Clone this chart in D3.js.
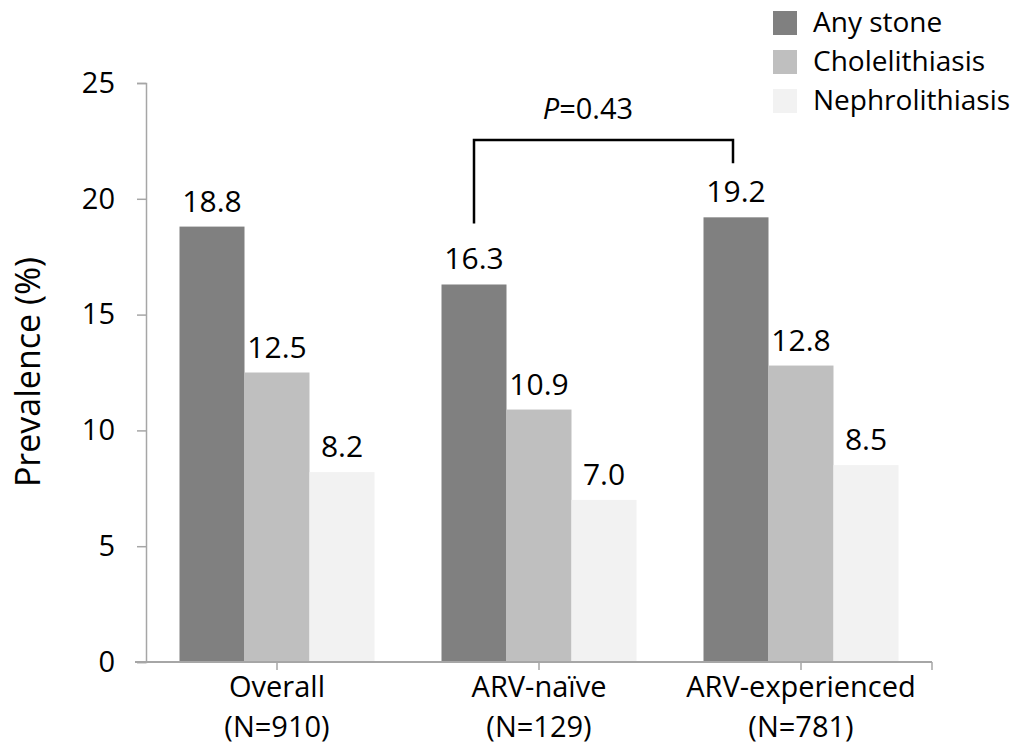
<!DOCTYPE html>
<html><head><meta charset="utf-8">
<script src="https://cdn.jsdelivr.net/npm/d3@7"></script>
<style>body{margin:0;background:#fff}svg{display:block}text{font-family:"Open Sans",sans-serif;fill:#000}</style>
</head><body><svg id="c" width="1021" height="744"></svg>
<script>
const categories = ["Overall", "ARV-naïve", "ARV-experienced"];
const categoryN = ["(N=910)", "(N=129)", "(N=781)"];
const seriesNames = ["Any stone", "Cholelithiasis", "Nephrolithiasis"];
const anyStone = [18.8, 16.3, 19.2];
const cholelithiasis = [12.5, 10.9, 12.8];
const nephrolithiasis = [8.2, 7.0, 8.5];
const yTicks = [0, 5, 10, 15, 20, 25];
const pLabel = "0.43";

const colors = ["#808080", "#BFBFBF", "#F2F2F2"];
const series = [anyStone, cholelithiasis, nephrolithiasis];

const svg = d3.select("#c");
const x0 = d3.scaleBand().domain(categories).range([146, 932]).padding(0);
const x1 = d3.scaleBand().domain(seriesNames).range([33.5, 228.5]).padding(0);
const y = d3.scaleLinear().domain([0, 25]).range([662, 83]);
const axisColor = "#A6A6A6";

// Y axis
const yAxis = svg.append("g").attr("transform", "translate(146,0)")
  .call(d3.axisLeft(y).tickValues(yTicks).tickSize(9).tickPadding(22).tickFormat(d3.format("d")));
yAxis.select(".domain").attr("stroke", axisColor).attr("stroke-width", 1.5);
yAxis.selectAll(".tick line").attr("stroke", axisColor).attr("stroke-width", 1.5);
yAxis.selectAll(".tick text").attr("font-size", 29).attr("font-family", "Open Sans").attr("fill", "#000");

// bars
const groups = svg.append("g").selectAll("g").data(categories).join("g")
  .attr("transform", d => `translate(${x0(d)},0)`);
seriesNames.forEach((s, si) => {
  groups.append("rect")
    .attr("x", x1(s)).attr("width", x1.bandwidth())
    .attr("y", (d, i) => y(series[si][i]))
    .attr("height", (d, i) => y(0) - y(series[si][i]))
    .attr("fill", colors[si]);
  groups.append("text")
    .attr("x", x1(s) + x1.bandwidth() / 2)
    .attr("y", (d, i) => y(series[si][i]) - 15)
    .attr("text-anchor", "middle").attr("font-size", 30)
    .text((d, i) => series[si][i].toFixed(1));
});

// X axis
svg.append("line").attr("x1", 135).attr("x2", 932).attr("y1", y(0)).attr("y2", y(0))
  .attr("stroke", axisColor).attr("stroke-width", 2);
const xTickPos = categories.map(c => x0(c) + x0.bandwidth() / 2).concat([932]);
svg.append("g").selectAll("line").data(xTickPos).join("line")
  .attr("x1", d => d).attr("x2", d => d).attr("y1", y(0)).attr("y2", y(0) + 8)
  .attr("stroke", axisColor).attr("stroke-width", 1.5);
svg.append("g").selectAll("text").data(categories).join("text")
  .attr("x", d => x0(d) + x0.bandwidth() / 2).attr("y", 697)
  .attr("text-anchor", "middle").attr("font-size", 29).text(d => d);
svg.append("g").selectAll("text").data(categoryN).join("text")
  .attr("x", (d, i) => x0(categories[i]) + x0.bandwidth() / 2).attr("y", 737)
  .attr("text-anchor", "middle").attr("font-size", 29).text(d => d);

// Y title
svg.append("text").attr("transform", "translate(40,372) rotate(-90)")
  .attr("text-anchor", "middle").attr("font-size", 34).text("Prevalence (%)");

// bracket
const bx1 = x0(categories[1]) + x1(seriesNames[0]) + x1.bandwidth() / 2;
const bx2 = x0(categories[2]) + x1(seriesNames[0]) + x1.bandwidth() / 2 - 3;
const topY = 140;
svg.append("path")
  .attr("d", `M${bx1},${y(anyStone[1]) - 61}V${topY}H${bx2}V${y(anyStone[2]) - 54}`)
  .attr("fill", "none").attr("stroke", "#000").attr("stroke-width", 2.5);
const pt = svg.append("text").attr("x", bx1 + (bx2 - bx1) * 0.44).attr("y", 119)
  .attr("text-anchor", "middle").attr("font-size", 29);
pt.append("tspan").attr("font-style", "italic").text("P");
pt.append("tspan").text("=" + pLabel);

// legend
const lg = svg.append("g").selectAll("g").data(seriesNames).join("g")
  .attr("transform", (d, i) => `translate(773,${11 + i * 39})`);
lg.append("rect").attr("width", 24).attr("height", 24).attr("fill", (d, i) => colors[i]);
lg.append("text").attr("x", 40).attr("y", 21).attr("font-size", 28).text(d => d);
</script></body></html>
